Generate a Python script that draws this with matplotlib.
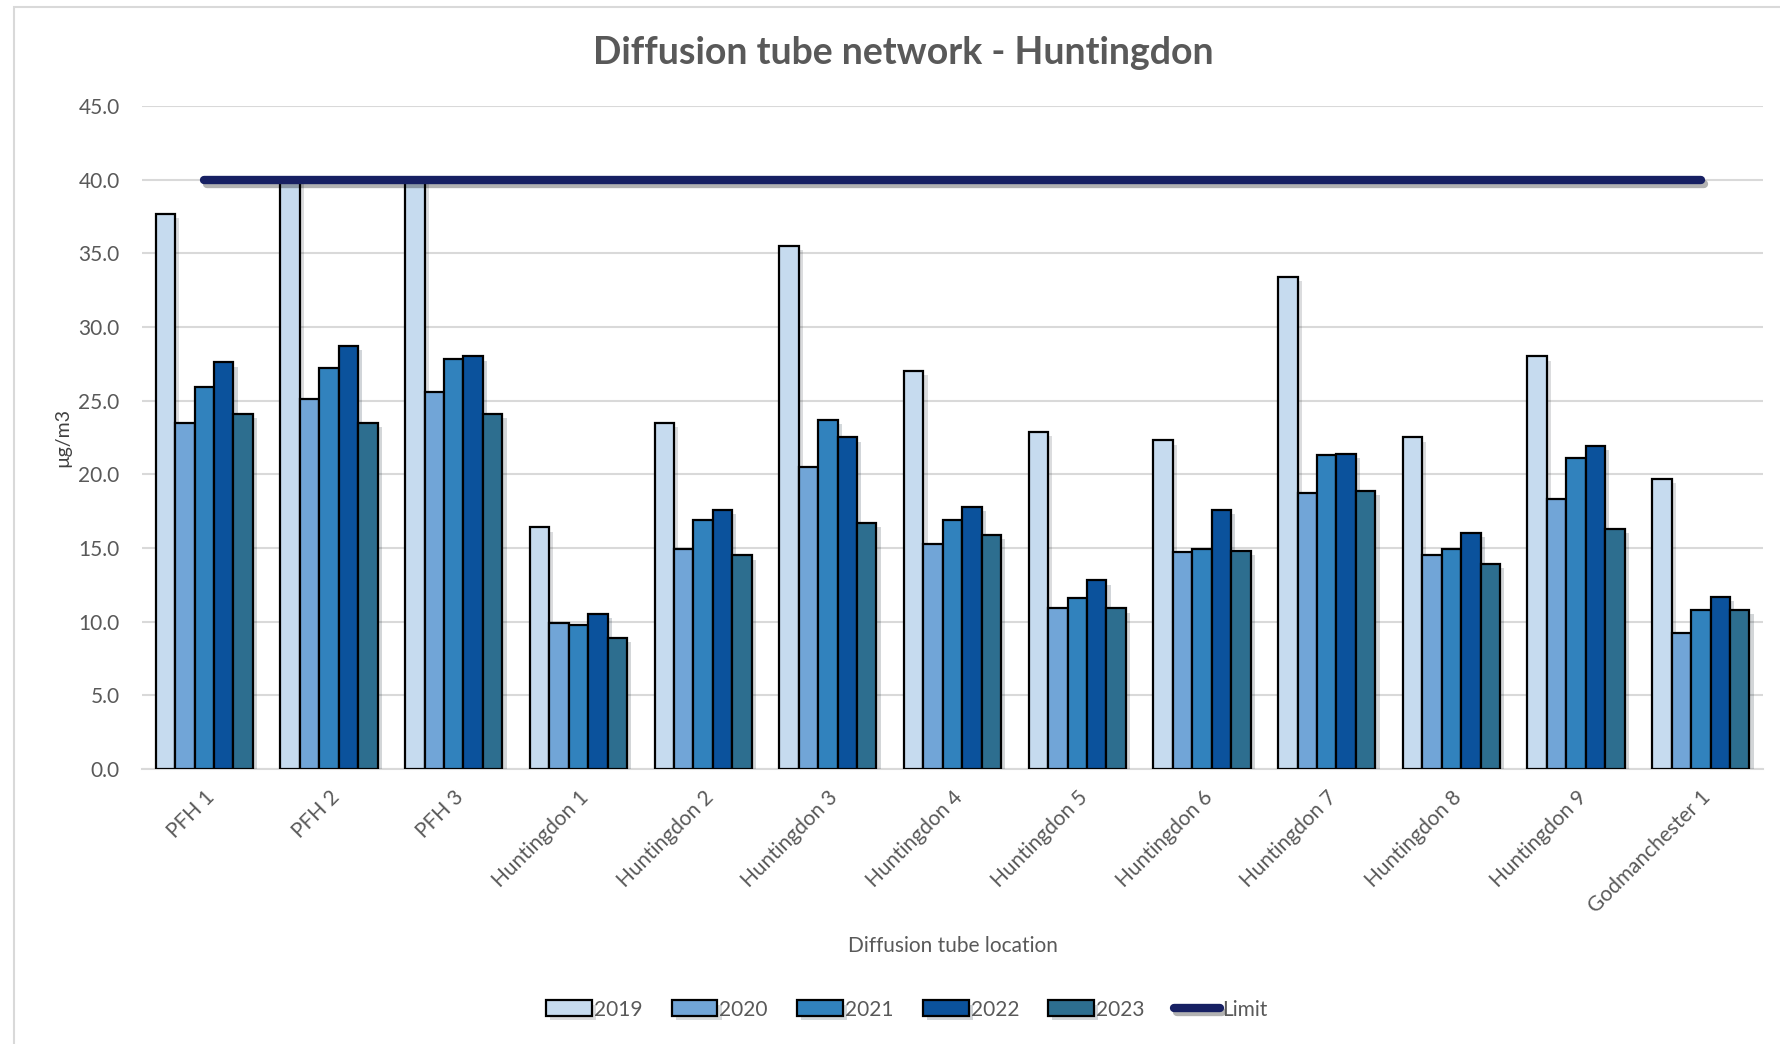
import numpy as np
import matplotlib
matplotlib.use("Agg")
import matplotlib.pyplot as plt
import matplotlib.patheffects as pe
from matplotlib.patches import Rectangle

plt.rcParams['font.family'] = ['Lato', 'DejaVu Sans']

# NO2 annual means per diffusion tube (ug/m3)
sites = ['PFH 1', 'PFH 2', 'PFH 3', 'Huntingdon 1', 'Huntingdon 2', 'Huntingdon 3',
         'Huntingdon 4', 'Huntingdon 5', 'Huntingdon 6', 'Huntingdon 7',
         'Huntingdon 8', 'Huntingdon 9', 'Godmanchester 1']
years = ['2019', '2020', '2021', '2022', '2023']
y2019 = [37.7, 40.0, 40.0, 16.4, 23.5, 35.5, 27.0, 22.9, 22.3, 33.4, 22.5, 28.0, 19.7]
y2020 = [23.5, 25.1, 25.6, 9.9, 14.9, 20.5, 15.3, 10.9, 14.7, 18.7, 14.5, 18.3, 9.2]
y2021 = [25.9, 27.2, 27.8, 9.8, 16.9, 23.7, 16.9, 11.6, 14.9, 21.3, 14.9, 21.1, 10.8]
y2022 = [27.6, 28.7, 28.0, 10.5, 17.6, 22.5, 17.8, 12.8, 17.6, 21.4, 16.0, 21.9, 11.7]
y2023 = [24.1, 23.5, 24.1, 8.9, 14.5, 16.7, 15.9, 10.9, 14.8, 18.9, 13.9, 16.3, 10.8]
limit = [40.0] * len(sites)

series = [y2019, y2020, y2021, y2022, y2023]
colors = ['#c6dbef', '#71a5d7', '#3182bd', '#0b529c', '#2d6e8f']
grey = '#595959'

fig = plt.figure(figsize=(17.81, 10.44), dpi=100)
ax = fig.add_axes([0.0797, 0.2634, 0.9103, 0.6351])

# light outer chart border
fig.patches.append(Rectangle((14 / 1781, -0.01), 1.0, 1 - 7 / 1044 + 0.01,
                             transform=fig.transFigure, fill=False,
                             edgecolor='#d9d9d9', linewidth=1.5))

x = np.arange(len(sites))
w = 0.156
bar_fx = [pe.SimplePatchShadow(offset=(3, -3), alpha=0.18), pe.Normal()]
handles = []
for i, (vals, c, lab) in enumerate(zip(series, colors, years)):
    bars = ax.bar(x + (i - 2) * w, vals, width=w, color=c, edgecolor='black',
                  linewidth=1.6, label=lab, zorder=3)
    for b in bars:
        b.set_path_effects(bar_fx)
    handles.append(bars)

line, = ax.plot(x, limit, color='#172063', linewidth=6, solid_capstyle='round',
                label='Limit', zorder=4,
                path_effects=[pe.SimpleLineShadow(offset=(2, -3), alpha=0.3), pe.Normal()])
handles.append(line)

ax.set_xlim(-0.5, len(sites) - 0.5)
ax.set_ylim(0, 45)
ax.set_yticks(np.arange(0, 46, 5))
ax.set_yticklabels([f'{v:.1f}' for v in np.arange(0, 46, 5)])
ax.yaxis.grid(True, color='#d9d9d9', linewidth=1.5, zorder=0)
ax.set_axisbelow(True)
for s in ['top', 'right', 'left']:
    ax.spines[s].set_visible(False)
ax.spines['bottom'].set_color('#d9d9d9')
ax.spines['bottom'].set_linewidth(1.5)
ax.tick_params(axis='both', length=0, colors=grey, labelsize=15)
ax.tick_params(axis='y', pad=16)

ax.set_xticks(x)
ax.set_xticklabels(sites, rotation=45, ha='right', rotation_mode='anchor')
ax.tick_params(axis='x', pad=13)

ax.set_ylabel('µg/m3', color='#404040', fontsize=14, labelpad=5)
ax.set_xlabel('Diffusion tube location', color=grey, fontsize=15, labelpad=14)
fig.text(0.507, 0.949, 'Diffusion tube network - Huntingdon', ha='center',
         va='center', fontsize=27, fontweight='bold', color=grey)

fig.legend(handles, years + ['Limit'], loc='center', bbox_to_anchor=(0.509, 0.033),
           ncol=6, frameon=False, fontsize=15, handlelength=2.2, handleheight=0.8,
           handletextpad=0.1, columnspacing=1.4, labelcolor=grey)

fig.savefig('out.png', dpi=100)
